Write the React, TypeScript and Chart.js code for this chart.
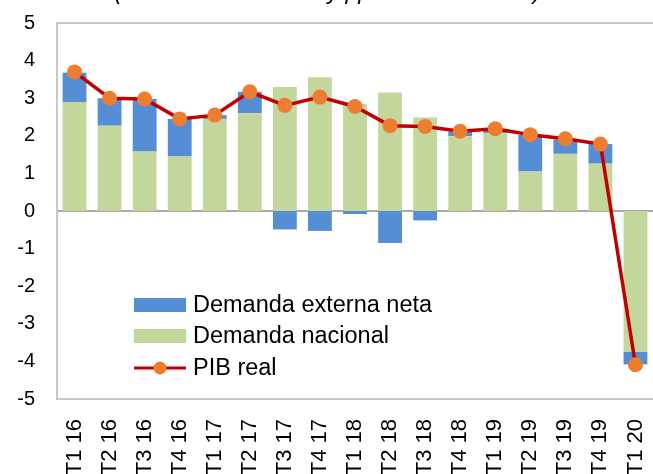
import React, { useEffect, useRef } from "react";
import { Chart, registerables } from "chart.js";

Chart.register(...registerables);

const categories = [
  "T1 16", "T2 16", "T3 16", "T4 16",
  "T1 17", "T2 17", "T3 17", "T4 17",
  "T1 18", "T2 18", "T3 18", "T4 18",
  "T1 19", "T2 19", "T3 19", "T4 19",
  "T1 20",
];
const demandaNacional = [2.9, 2.27, 1.58, 1.45, 2.45, 2.6, 3.3, 3.56, 2.85, 3.15, 2.49, 1.99, 2.07, 1.05, 1.52, 1.26, -3.75];
const demandaExternaNeta = [0.78, 0.73, 1.4, 1.0, 0.1, 0.57, -0.49, -0.53, -0.08, -0.85, -0.25, 0.12, 0.07, 0.97, 0.38, 0.52, -0.33];
const pibReal = [3.7, 3.0, 2.98, 2.45, 2.55, 3.17, 2.81, 3.03, 2.78, 2.27, 2.25, 2.12, 2.19, 2.03, 1.92, 1.78, -4.09];

const titleText = "(variación interanual y pp de contribución)";
const legendLabels = ["Demanda externa neta", "Demanda nacional", "PIB real"];

const BLUE = "#558ed5";
const GREEN = "#c3d69b";
const RED = "#c00000";
const ORANGE = "#ed7d31";
const FONT = "'Liberation Sans', Arial, sans-serif";

const decorPlugin = {
  id: "decor",
  beforeDatasetsDraw(chart: any) {
    const { ctx, chartArea, scales } = chart;
    const y0 = scales.y.getPixelForValue(0);
    ctx.save();
    ctx.strokeStyle = "#8c8c8c";
    ctx.lineWidth = 1.5;
    ctx.beginPath();
    ctx.moveTo(chartArea.left, y0);
    ctx.lineTo(chartArea.right, y0);
    ctx.stroke();
    ctx.strokeStyle = "#c8c8c8";
    ctx.lineWidth = 2;
    ctx.strokeRect(chartArea.left, chartArea.top, chartArea.right - chartArea.left + 5, chartArea.bottom - chartArea.top);
    ctx.restore();
  },
  afterDraw(chart: any) {
    const { ctx, chartArea, width } = chart;
    ctx.save();
    // title (cut off at top as in reference)
    ctx.font = `italic 23px ${FONT}`;
    ctx.fillStyle = "#000";
    ctx.textAlign = "center";
    ctx.textBaseline = "alphabetic";
    ctx.fillText(titleText, width / 2 + 1, -1);

    // legend
    const lx = chartArea.left + 77;
    const rows = [chartArea.bottom - 94, chartArea.bottom - 63, chartArea.bottom - 31];
    ctx.font = `23.5px ${FONT}`;
    ctx.textAlign = "left";
    ctx.textBaseline = "middle";
    ctx.fillStyle = BLUE;
    ctx.fillRect(lx, rows[0] - 7, 52, 14);
    ctx.fillStyle = GREEN;
    ctx.fillRect(lx, rows[1] - 7, 52, 14);
    ctx.strokeStyle = RED;
    ctx.lineWidth = 3;
    ctx.beginPath();
    ctx.moveTo(lx, rows[2]);
    ctx.lineTo(lx + 52, rows[2]);
    ctx.stroke();
    ctx.fillStyle = ORANGE;
    ctx.beginPath();
    ctx.arc(lx + 26, rows[2], 6.5, 0, Math.PI * 2);
    ctx.fill();
    ctx.fillStyle = "#000";
    legendLabels.forEach((t, i) => ctx.fillText(t, lx + 59, rows[i] + 1));
    ctx.restore();
  },
};

export default function App() {
  const ref = useRef<HTMLCanvasElement | null>(null);
  useEffect(() => {
    if (!ref.current) return;
    const chart = new Chart(ref.current, {
      type: "bar",
      data: {
        labels: categories,
        datasets: [
          {
            type: "line",
            label: "PIB real",
            data: pibReal,
            borderColor: RED,
            borderWidth: 3.5,
            pointBackgroundColor: ORANGE,
            pointBorderColor: ORANGE,
            pointRadius: 7.5,
            pointBorderWidth: 0,
            stack: "pib",
            order: 0,
            tension: 0,
          } as any,
          {
            label: "Demanda nacional",
            data: demandaNacional,
            backgroundColor: GREEN,
            stack: "bars",
            order: 1,
            barPercentage: 0.68,
            categoryPercentage: 1,
          },
          {
            label: "Demanda externa neta",
            data: demandaExternaNeta,
            backgroundColor: BLUE,
            stack: "bars",
            order: 1,
            barPercentage: 0.68,
            categoryPercentage: 1,
          },
        ],
      },
      options: {
        animation: false,
        responsive: false,
        maintainAspectRatio: false,
        layout: { padding: { top: 23, right: 0, left: 0, bottom: 0 }, autoPadding: false } as any,
        plugins: { legend: { display: false }, tooltip: { enabled: false }, title: { display: false } },
        scales: {
          x: {
            stacked: true,
            grid: { display: false, drawTicks: false },
            border: { display: false },
            ticks: {
              color: "#000",
              font: { family: FONT, size: 22 },
              maxRotation: 90,
              minRotation: 90,
              padding: 20,
              autoSkip: false,
            },
            afterFit(scale: any) {
              scale.height = 75;
              scale.paddingLeft = 0;
              scale.paddingRight = 0;
              scale.paddingTop = 0;
              scale.paddingBottom = 0;
            },
          },
          y: {
            stacked: true,
            min: -5,
            max: 5,
            grid: { display: false, drawTicks: false },
            border: { display: false },
            ticks: {
              stepSize: 1,
              color: "#000",
              font: { family: FONT, size: 20 },
              padding: 22,
            },
            afterFit(scale: any) {
              scale.width = 57;
              scale.paddingLeft = 0;
              scale.paddingRight = 0;
              scale.paddingTop = 0;
              scale.paddingBottom = 0;
            },
          },
        },
      },
      plugins: [decorPlugin],
    } as any);
    return () => chart.destroy();
  }, []);
  return (
    <div style={{ position: "fixed", left: 0, top: 0, width: 653, height: 474, overflow: "hidden", background: "#fff" }}>
      <canvas ref={ref} width={653} height={474} style={{ display: "block", width: 653, height: 474 }} />
    </div>
  );
}
